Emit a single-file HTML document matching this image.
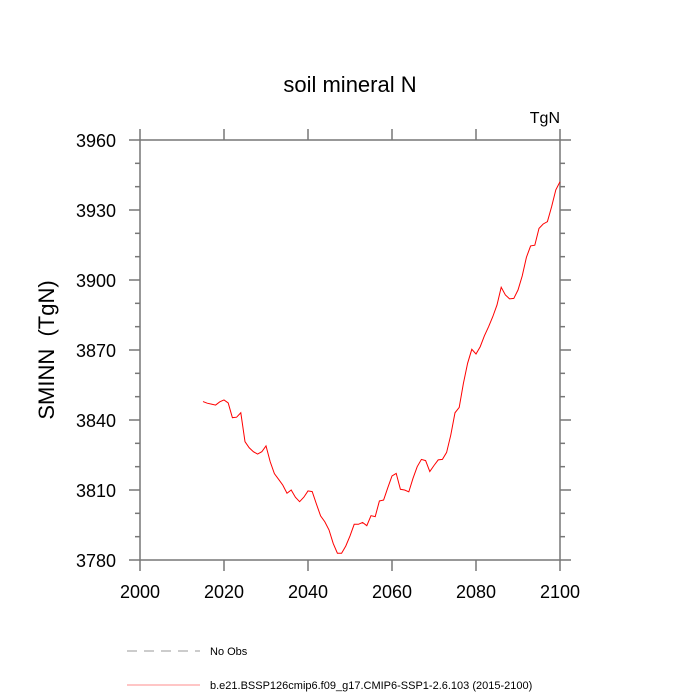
<!DOCTYPE html>
<html><head><meta charset="utf-8"><style>
body{margin:0;background:#fff;}
svg{display:block;font-family:"Liberation Sans",sans-serif;}
</style></head><body>
<svg id="chart" width="700" height="700">
<text x="350" y="92" font-size="22" text-anchor="middle">soil mineral N</text>
<text x="560" y="123" font-size="16" text-anchor="end">TgN</text>
<text transform="translate(54,350) rotate(-90)" font-size="22" text-anchor="middle" style="white-space:pre">SMINN  (TgN)</text>
<g id="axes"></g>
<rect x="140" y="140" width="420" height="420" fill="none" stroke="#777" stroke-width="1.5"/>
<g id="series"></g>
<line x1="127" y1="651" x2="200" y2="651" stroke="#999" stroke-dasharray="10,7"/>
<text x="210" y="655" font-size="11">No Obs</text>
<line x1="127" y1="685" x2="200" y2="685" stroke="#f66" stroke-width="0.8"/>
<text x="210" y="689" font-size="11">b.e21.BSSP126cmip6.f09_g17.CMIP6-SSP1-2.6.103 (2015-2100)</text>
</svg>
<script>
const startYear = 2015;
const values = [3847.9,3847.2,3846.8,3846.4,3847.8,3848.6,3847.3,3841,3841.2,3843.1,3830.7,3828.1,3826.4,3825.4,3826.4,3828.9,3822.1,3817,3814.6,3812.1,3808.6,3810,3806.9,3805,3806.9,3809.6,3809.3,3804,3798.9,3796.4,3792.9,3787.1,3782.9,3782.9,3786,3790.3,3795.3,3795.3,3796.1,3794.7,3799,3798.6,3805.3,3805.7,3811,3816,3817.1,3810.3,3810,3809.2,3815,3820,3823.1,3822.6,3817.9,3820.5,3822.9,3823.1,3826.1,3833.6,3843.1,3845.4,3855.7,3864.3,3870.3,3868.3,3871.4,3876.1,3880,3884.3,3889.3,3896.9,3893.6,3891.9,3892.1,3895.7,3901.7,3909.7,3914.6,3914.9,3922.1,3924,3925,3931.4,3938.6,3942.1];
const xTicks = [2000,2020,2040,2060,2080,2100];
const yTicks = [3780,3810,3840,3870,3900,3930,3960];
const yMinor = [3790,3800,3820,3830,3850,3860,3880,3890,3910,3920,3940,3950];
const NS='http://www.w3.org/2000/svg';
const X = v => 140 + (v-2000)*420/100;
const Y = v => 560 - (v-3780)*420/180;
const axes = document.getElementById('axes');
function ln(x1,y1,x2,y2,name){const l=document.createElementNS(NS,'line');
l.setAttribute('x1',x1);l.setAttribute('y1',y1);l.setAttribute('x2',x2);l.setAttribute('y2',y2);
l.setAttribute('stroke','#777');l.setAttribute('stroke-width','1.5');


axes.appendChild(l);}
function tx(x,y,s,anchor,name){const t=document.createElementNS(NS,'text');
t.setAttribute('x',x);t.setAttribute('y',y);t.setAttribute('font-size','18');t.setAttribute('text-anchor',anchor);t.textContent=s;


axes.appendChild(t);}
xTicks.forEach(v=>{const x=X(v);ln(x,560,x,571,'x-tick');ln(x,140,x,129,'x-tick-top');tx(x,598,v,'middle','x-tick-label');});
yTicks.forEach(v=>{const y=Y(v);ln(140,y,129,y,'y-tick');ln(560,y,571,y,'y-tick-right');tx(116,y+7,v,'end','y-tick-label');});
yMinor.forEach(v=>{const y=Y(v);ln(140,y,135,y,'y-minor-tick');ln(560,y,565,y,'y-minor-tick-right');});
const p=document.createElementNS(NS,'polyline');
p.setAttribute('points',values.map((v,i)=>X(startYear+i).toFixed(2)+','+Y(v).toFixed(2)).join(' '));
p.setAttribute('fill','none');p.setAttribute('stroke','red');p.setAttribute('stroke-width','1');


document.getElementById('series').appendChild(p);
</script>
</body></html>
